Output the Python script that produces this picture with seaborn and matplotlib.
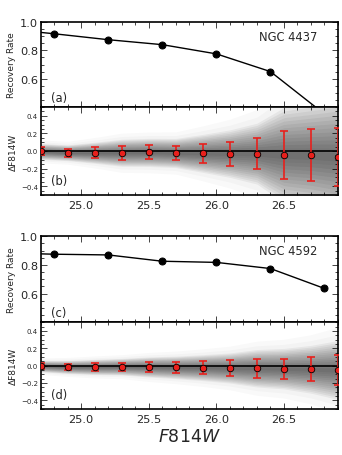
import numpy as np
import pandas as pd
import matplotlib
matplotlib.use("Agg")
import matplotlib.pyplot as plt
import seaborn as sns
from matplotlib.ticker import MultipleLocator

sns.set_style("ticks")
plt.rcParams['font.family'] = ['DejaVu Sans']

# ---- data ----
rr_mag = [24.4, 24.8, 25.2, 25.6, 26.0, 26.4, 26.8]
rr_4437 = [0.955, 0.917, 0.875, 0.840, 0.775, 0.650, 0.35]
rr_4592 = [0.885, 0.875, 0.870, 0.826, 0.818, 0.775, 0.636]

bin_mag = [24.7, 24.9, 25.1, 25.3, 25.5, 25.7, 25.9, 26.1, 26.3, 26.5, 26.7, 26.9]
dm_4437 = [-0.005, -0.02, -0.02, -0.02, -0.016, -0.023, -0.027, -0.03, -0.03, -0.046, -0.05, -0.065]
err_4437 = [0.045, 0.045, 0.06, 0.077, 0.08, 0.083, 0.108, 0.135, 0.173, 0.27, 0.296, 0.33]
dm_4592 = [-0.005, -0.015, -0.015, -0.012, -0.015, -0.02, -0.023, -0.027, -0.03, -0.035, -0.042, -0.05]
err_4592 = [0.033, 0.038, 0.044, 0.048, 0.058, 0.065, 0.075, 0.087, 0.108, 0.117, 0.138, 0.17]

W, H = 342, 456
fig = plt.figure(figsize=(W / 100, H / 100), dpi=100)

def frac(top, bottom):
    return [40.7 / W, 1 - bottom / H, (338 - 40.7) / W, (bottom - top) / H]

ax_a = fig.add_axes(frac(23, 108))
ax_b = fig.add_axes(frac(108, 196))
ax_c = fig.add_axes(frac(237.3, 323.3))
ax_d = fig.add_axes(frac(323.3, 410))

def style(ax, small):
    ax.set_xlim(24.7, 26.9)
    ax.xaxis.set_major_locator(MultipleLocator(0.5))
    ax.xaxis.set_minor_locator(MultipleLocator(0.1))
    ax.tick_params(which='both', direction='in', top=True, right=True, width=0.6)
    ax.tick_params(which='major', length=4)
    ax.tick_params(which='minor', length=2)
    ax.tick_params(axis='x', labelsize=8.2)
    ax.tick_params(axis='y', labelsize=5 if small else 8.2, pad=2)
    for s in ax.spines.values():
        s.set_linewidth(1.2)
        s.set_color('black')

def recovery(ax, rr, name, label):
    df = pd.DataFrame({'mag': rr_mag, 'rate': rr})
    sns.lineplot(data=df, x='mag', y='rate', ax=ax, color='black', lw=1.0,
                 marker='o', markersize=5, markeredgecolor='black', clip_on=True)
    ax.set_ylim(0.4, 1.0)
    ax.set_yticks([0.6, 0.8, 1.0])
    ax.yaxis.set_minor_locator(MultipleLocator(0.05))
    style(ax, False)
    ax.set_xticklabels([])
    ax.set_xlabel('')
    ax.set_ylabel('Recovery Rate', fontsize=6.5, labelpad=3)
    ax.text(0.93, 0.83, name, transform=ax.transAxes, ha='right', va='center', fontsize=8.3)
    ax.text(0.035, 0.11, label, transform=ax.transAxes, ha='left', va='center', fontsize=8.3)

def residual(ax, dm, err, label):
    x = np.array(bin_mag)
    m = np.array(dm)
    e = np.array(err)
    for k in np.linspace(0.15, 2.0, 14):
        ax.fill_between(x, m - k * e, m + k * e, color='black', alpha=0.05, lw=0, zorder=1)
    for k in [2.4, 2.9]:
        ax.fill_between(x, m - k * e, m + k * e, color='black', alpha=0.025, lw=0, zorder=1)
    ax.axhline(0, color='black', lw=1.2, zorder=2)
    ax.errorbar(x, m, yerr=e, fmt='none', ecolor='#e8201c', elinewidth=1.2,
                capsize=3, capthick=1.2, zorder=3, clip_on=True)
    df = pd.DataFrame({'mag': bin_mag, 'dm': dm})
    sns.scatterplot(data=df, x='mag', y='dm', ax=ax, color='#e8201c', s=22,
                    edgecolor='black', linewidth=0.6, zorder=4)
    ax.set_ylim(-0.5, 0.5)
    ax.set_yticks([-0.4, -0.2, 0.0, 0.2, 0.4])
    ax.yaxis.set_minor_locator(MultipleLocator(0.05))
    style(ax, True)
    ax.set_xlabel('')
    ax.set_ylabel('ΔF814W', fontsize=6.5, labelpad=2)
    ax.text(0.035, 0.17, label, transform=ax.transAxes, ha='left', va='center', fontsize=8.3)

recovery(ax_a, rr_4437, 'NGC 4437', '(a)')
residual(ax_b, dm_4437, err_4437, '(b)')
recovery(ax_c, rr_4592, 'NGC 4592', '(c)')
residual(ax_d, dm_4592, err_4592, '(d)')
ax_d.set_xlabel('$F814W$', fontsize=12.5, labelpad=2)

fig.savefig('out.png', dpi=100)
